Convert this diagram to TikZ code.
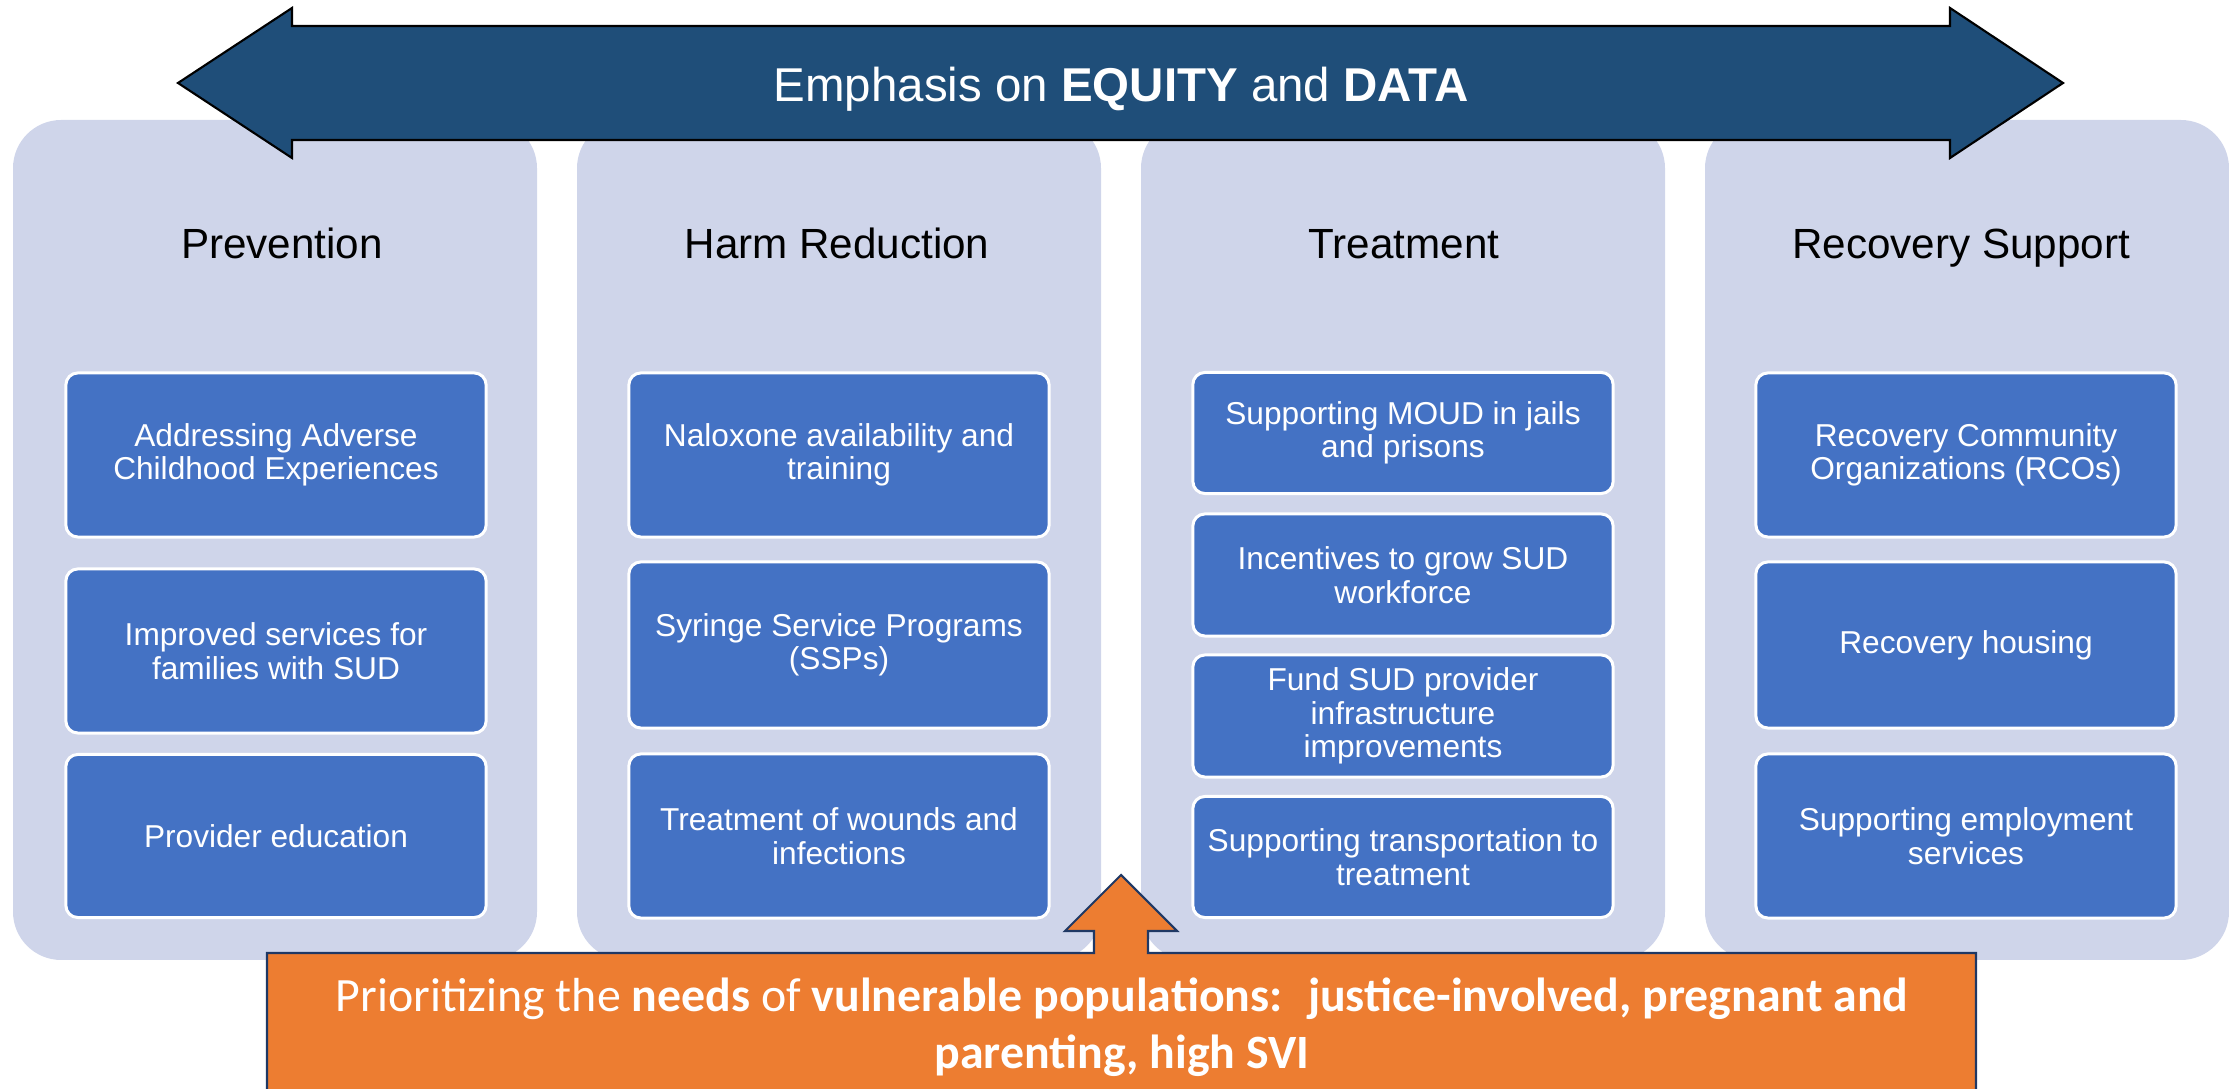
\documentclass[tikz,border=0pt]{standalone}
\usepackage{fontspec}
\setmainfont{Liberation Sans}
\newfontfamily\calibri{Carlito}
\usetikzlibrary{positioning}
\definecolor{navy}{HTML}{1F4E79}
\definecolor{panelblue}{HTML}{CFD5EA}
\definecolor{boxblue}{HTML}{4472C4}
\definecolor{orng}{HTML}{ED7D31}
\definecolor{darknavy}{HTML}{1F3864}

\begin{document}
\begin{tikzpicture}[x=0.01cm, y=-0.01cm,
        panel/.style={fill=panelblue, rounded corners=13.7pt},
        item/.style={draw=white, line width=0.85pt, fill=boxblue, rounded corners=3.4pt,
            minimum width=4.2cm, inner sep=2pt, align=center, text=white,
            font=\fontsize{9}{9.5}\selectfont},
        heading/.style={anchor=base, font=\fontsize{12}{14}\selectfont}]
        \useasboundingbox (0,0) rectangle (2229,1089);
        % columns
        \foreach \i/\hx/\name in {0/282/Prevention, 1/837/Harm Reduction, 2/1404/Treatment, 3/1961/Recovery Support} {
            \fill[panel] (13+564*\i,120) rectangle ++(524,840);
            \node[heading] (head\i) at (\hx,259) {\name};
        }
        % double arrow on top
        \draw[fill=navy, line width=0.6pt] (178,83) -- (292,8) -- (292,26) -- (1950,26) -- (1950,8) -- (2063,83)
            -- (1950,158) -- (1950,140) -- (292,140) -- (292,158) -- cycle;
        \node[anchor=base, text=white, font=\fontsize{13.5}{16}\selectfont] (emph) at (1121,102) {Emphasis on \textbf{EQUITY} and \textbf{DATA}};
        % prevention
        \node[item, minimum height=1.64cm] (prev1) at (276,455) {Addressing Adverse\\Childhood Experiences};
        \node[item, minimum height=1.64cm] (prev2) at (276,651) {Improved services for\\families with SUD};
        \node[item, minimum height=1.63cm] (prev3) at (276,836) {Provider education};
        % harm reduction
        \node[item, minimum height=1.64cm] (harm1) at (839,455) {Naloxone availability and\\training};
        \node[item, minimum height=1.66cm] (harm2) at (839,645) {Syringe Service Programs\\(SSPs)};
        \node[item, minimum height=1.64cm] (harm3) at (839,836) {Treatment of wounds and\\infections};
        % treatment
        \node[item, minimum height=1.21cm] (treat1) at (1403,433) {Supporting MOUD in jails\\and prisons};
        \node[item, minimum height=1.22cm] (treat2) at (1403,575) {Incentives to grow SUD\\workforce};
        \node[item, minimum height=1.22cm] (treat3) at (1403,716) {Fund SUD provider\\infrastructure\\improvements};
        \node[item, minimum height=1.21cm] (treat4) at (1403,857) {Supporting transportation to\\treatment};
        % recovery support
        \node[item, minimum height=1.64cm] (rec1) at (1966,455) {Recovery Community\\Organizations (RCOs)};
        \node[item, minimum height=1.66cm] (rec2) at (1966,645) {Recovery housing};
        \node[item, minimum height=1.64cm] (rec3) at (1966,836) {Supporting employment\\services};
        % bottom box with up arrow
        \draw[fill=orng, draw=darknavy, line width=0.6pt] (267,953) -- (1094,953) -- (1094,931) -- (1065,931) -- (1121,875)
            -- (1177,931) -- (1148,931) -- (1148,953) -- (1976,953) -- (1976,1110) -- (267,1110) -- cycle;
        \node[anchor=base, text=white, font=\calibri\fontsize{13.6}{16}\selectfont] (need1) at (1122,1012)
            {Prioritizing the \textbf{needs} of \textbf{vulnerable populations:~ justice-involved, pregnant and}};
        \node[anchor=base, text=white, font=\calibri\fontsize{13.6}{16}\selectfont] (need2) at (1122,1069)
            {\textbf{parenting, high SVI}};
\end{tikzpicture}
\end{document}
